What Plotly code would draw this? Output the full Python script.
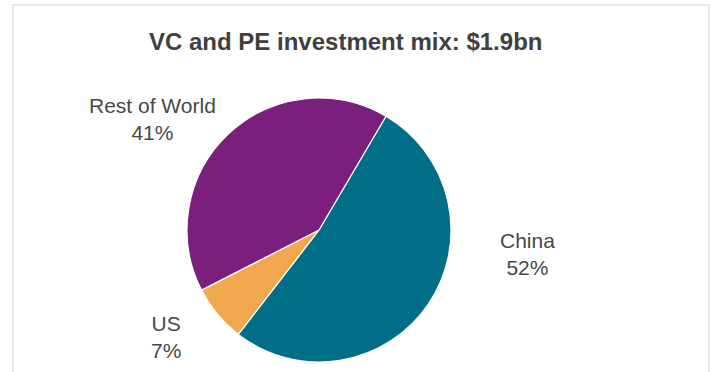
import plotly.graph_objects as go

# Investment mix by region (share of $1.9bn, %)
regions = ["China", "US", "Rest of World"]
shares = [52, 7, 41]
colors = ["#006e87", "#f1a74d", "#7a1f7b"]

# Label anchor points (pixels from top-left of the 714x372 canvas)
label_px = {"China": (527, 254), "US": (166, 337), "Rest of World": (152, 119)}

W, H = 714, 372
cx, cy, r = 319, 230, 132

fig = go.Figure(
    go.Pie(
        labels=regions,
        values=shares,
        sort=False,
        direction="clockwise",
        rotation=30.5,
        marker=dict(colors=colors, line=dict(color="white", width=1.2)),
        textinfo="none",
        hoverinfo="label+percent",
        showlegend=False,
        domain=dict(
            x=[(cx - r) / W, (cx + r) / W],
            y=[(H - cy - r) / H, (H - cy + r) / H],
        ),
    )
)

annotations = []
for name, val in zip(regions, shares):
    px, py = label_px[name]
    annotations.append(
        dict(
            x=px / W, y=(H - py) / H, xref="paper", yref="paper",
            text=f"{name}<br>{val}%", showarrow=False,
            xanchor="center", yanchor="middle", align="center",
            font=dict(family="Arial, Liberation Sans, sans-serif", size=21, color="#474747"),
        )
    )

# Chart title
annotations.append(
    dict(
        x=345 / W, y=(H - 41) / H, xref="paper", yref="paper",
        text="<b>VC and PE investment mix: $1.9bn</b>", showarrow=False,
        xanchor="center", yanchor="middle",
        font=dict(family="Arial, Liberation Sans, sans-serif", size=24, color="#404040"),
    )
)

# Light frame around the chart area
frame = dict(
    type="rect", xref="paper", yref="paper",
    x0=13 / W, x1=709 / W, y0=-0.2, y1=(H - 5) / H,
    line=dict(color="#e6e6e6", width=2), fillcolor="rgba(0,0,0,0)", layer="below",
)

fig.update_layout(
    width=W, height=H,
    margin=dict(l=0, r=0, t=0, b=0),
    paper_bgcolor="white", plot_bgcolor="white",
    annotations=annotations,
    shapes=[frame],
)

fig.write_html("out.html")
